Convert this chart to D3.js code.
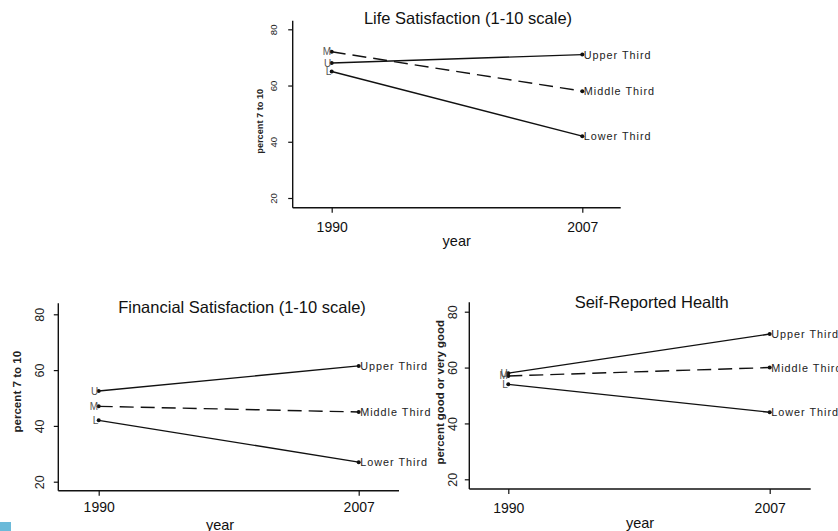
<!DOCTYPE html>
<html>
<head>
<meta charset="utf-8">
<script src="https://cdn.jsdelivr.net/npm/d3@7"></script>
<style>
  body { margin: 0; background: #fff; }
  svg { display: block; font-family: "Liberation Sans", Arial, sans-serif; }
</style>
</head>
<body>
<svg id="chart" width="838" height="531"></svg>
<script>
// donnees
const years = [1990, 2007];
const groups = ["Upper Third", "Middle Third", "Lower Third"];
const initials = ["U", "M", "L"];
const yTicks = [20, 40, 60, 80];

const lifeValues = [[68, 71], [72, 58], [65, 42]];
const financeValues = [[52.5, 61.5], [47, 45], [42, 27]];
const healthValues = [[58, 72], [57, 60], [54, 44]];

const titles = ["Life Satisfaction (1-10 scale)", "Financial Satisfaction (1-10 scale)", "Seif-Reported Health"];
const yLabels = ["percent 7 to 10", "percent 7 to 10", "percent good or very good"];

// mise en page des trois panneaux
const panels = [
	{ values: lifeValues, title: titles[0], ylab: yLabels[0],
	  ax: 292.7, ay: 207.7, xr: [331.7, 582.3], xEnd: 620.7, yr: [198, 29.3], yTop: 20.7,
	  titleX: 468, titleY: 18.3, titleSize: 16.5, tickSize: 9.6, ylabSize: 9.2,
	  ytickDx: 19.4, ylabDx: 32.7, ylabY: 121.3, xtickDy: 19, yearX: 456.7, yearY: 240.7 },
	{ values: financeValues, title: titles[1], ylab: yLabels[1],
	  ax: 58.3, ay: 490.7, xr: [98.7, 358.7], xEnd: 399, yr: [481.7, 314.3], yTop: 303.3,
	  titleX: 242, titleY: 307.3, titleSize: 16.5, tickSize: 12.5, ylabSize: 11.6,
	  ytickDx: 18.3, ylabDx: 41.6, ylabY: 391.7, xtickDy: 16.6, yearX: 220, yearY: 525 },
	{ values: healthValues, title: titles[2], ylab: yLabels[2],
	  ax: 469.3, ay: 489, xr: [508.3, 769.7], xEnd: 810.7, yr: [479.3, 311.7], yTop: 302.3,
	  titleX: 651.7, titleY: 301.7, titleSize: 16.5, tickSize: 12.5, ylabSize: 11.4,
	  ytickDx: 16, ylabDx: 29.3, ylabY: 392.3, xtickDy: 19.3, yearX: 640, yearY: 523.3 }
];

const svg = d3.select("#chart");

svg.append("rect")
	.attr("x", 0).attr("y", 522).attr("width", 11).attr("height", 9)
	.attr("fill", "#6bbad9");

for (const p of panels) {

	const x = d3.scaleLinear().domain(d3.extent(years)).range(p.xr);
	const y = d3.scaleLinear().domain(d3.extent(yTicks)).range(p.yr);

	const g = svg.append("g");

	// axes
	g.append("line")
		.attr("x1", p.ax).attr("x2", p.xEnd).attr("y1", p.ay).attr("y2", p.ay)
		.attr("stroke", "#111").attr("stroke-width", 1.4);
	g.append("line")
		.attr("x1", p.ax).attr("x2", p.ax).attr("y1", p.ay).attr("y2", p.yTop)
		.attr("stroke", "#111").attr("stroke-width", 1.4);

	const xAxis = g.append("g")
		.attr("transform", `translate(0,${p.ay})`)
		.call(d3.axisBottom(x).tickValues(years).tickFormat(d3.format("d")).tickSize(5).tickSizeOuter(0));
	xAxis.select(".domain").remove();
	xAxis.selectAll("line").attr("stroke", "#111").attr("stroke-width", 1.2);
	xAxis.selectAll("text")
		.attr("y", p.xtickDy).attr("dy", "0.35em")
		.attr("font-size", 14).attr("fill", "#111")
		.attr("font-family", "Liberation Sans, Arial, sans-serif");

	const yAxis = g.append("g")
		.attr("transform", `translate(${p.ax},0)`)
		.call(d3.axisLeft(y).tickValues(yTicks).tickSize(4.5).tickSizeOuter(0));
	yAxis.select(".domain").remove();
	yAxis.selectAll("line").attr("stroke", "#111").attr("stroke-width", 1.2);
	yAxis.selectAll("text")
		.attr("x", 0).attr("dy", 0)
		.attr("transform", `translate(${-p.ytickDx},0) rotate(-90)`)
		.attr("text-anchor", "middle").attr("dominant-baseline", "central")
		.attr("font-size", p.tickSize).attr("fill", "#222")
		.attr("font-family", "Liberation Sans, Arial, sans-serif");

	// titres
	g.append("text")
		.attr("x", p.titleX).attr("y", p.titleY)
		.attr("text-anchor", "middle").attr("dominant-baseline", "central")
		.attr("font-size", p.titleSize).attr("fill", "#111")
		.text(p.title);

	g.append("text")
		.attr("x", p.yearX).attr("y", p.yearY)
		.attr("text-anchor", "middle").attr("dominant-baseline", "central")
		.attr("font-size", 14.5).attr("fill", "#111")
		.text("year");

	g.append("text")
		.attr("transform", `translate(${p.ax - p.ylabDx},${p.ylabY}) rotate(-90)`)
		.attr("text-anchor", "middle").attr("dominant-baseline", "central")
		.attr("font-size", p.ylabSize).attr("font-weight", "bold").attr("fill", "#222")
		.text(p.ylab);

	// series
	const line = d3.line().x((d, i) => x(years[i])).y(d => y(d));

	p.values.forEach((vals, k) => {
		g.append("path")
			.attr("d", line(vals))
			.attr("fill", "none")
			.attr("stroke", "#111")
			.attr("stroke-width", 1.4)
			.attr("stroke-dasharray", k === 1 ? "14,7" : null);

		g.selectAll(null)
			.data(vals)
			.enter()
			.append("circle")
			.attr("cx", (d, i) => x(years[i]))
			.attr("cy", d => y(d))
			.attr("r", 2)
			.attr("fill", "#111");

		g.append("text")
			.attr("x", x(years[0]) - 0.5).attr("y", y(vals[0]))
			.attr("text-anchor", "end").attr("dominant-baseline", "central")
			.attr("font-size", 10).attr("fill", "#555")
			.text(initials[k]);

		g.append("text")
			.attr("x", x(years[1]) + 1.5).attr("y", y(vals[1]))
			.attr("dominant-baseline", "central")
			.attr("font-size", 10.8).attr("letter-spacing", 1).attr("fill", "#222")
			.text(groups[k]);
	});
}
</script>
</body>
</html>
